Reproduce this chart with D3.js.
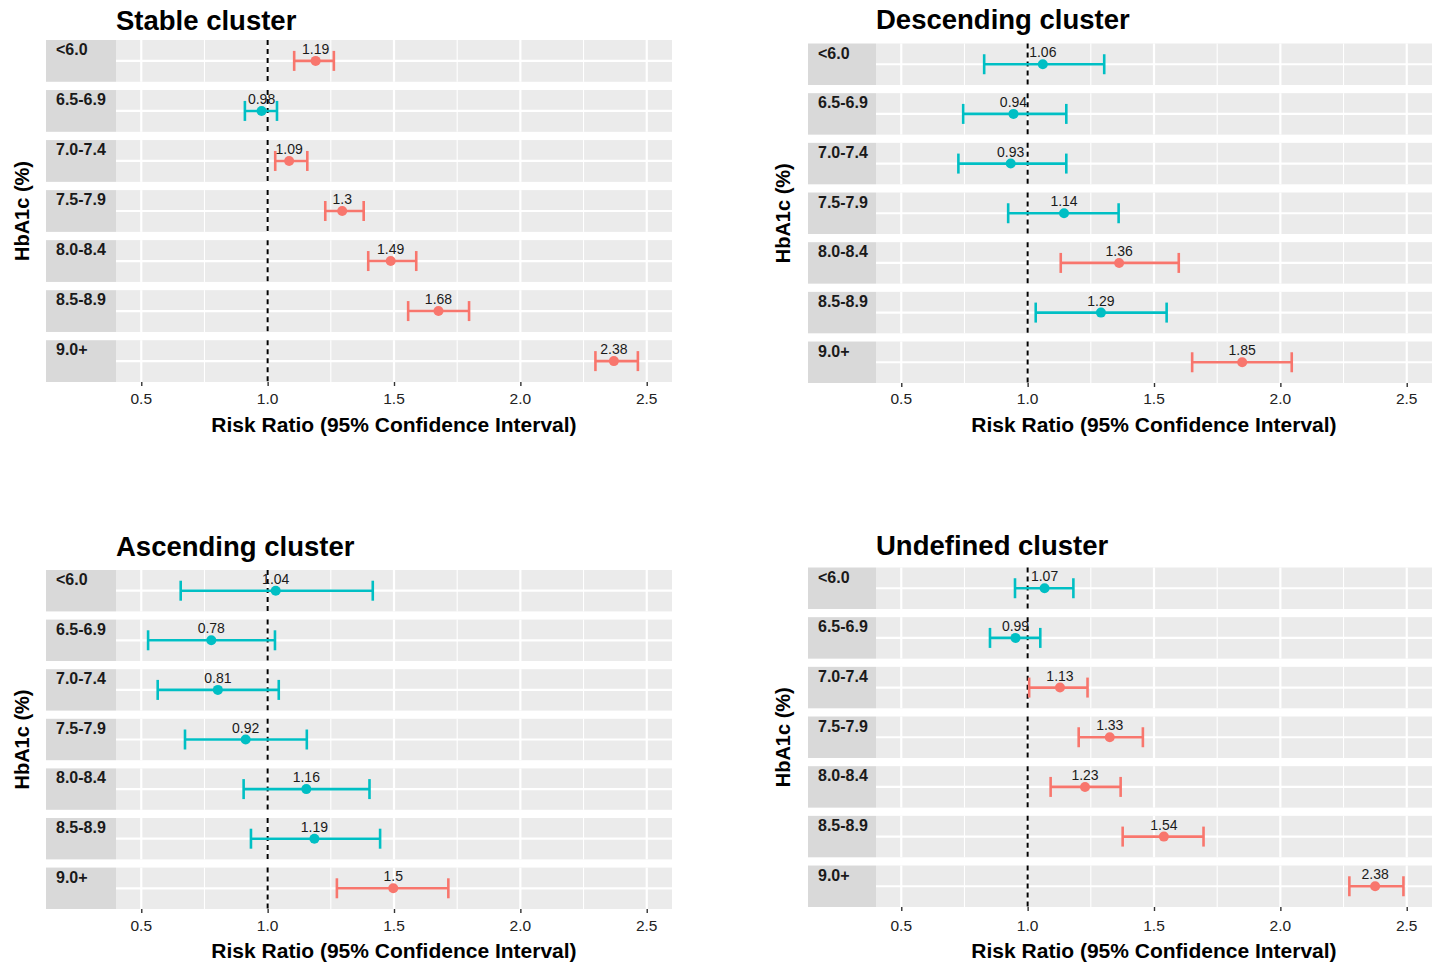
<!DOCTYPE html>
<html><head><meta charset="utf-8">
<script src="https://cdn.jsdelivr.net/npm/d3@7"></script>
<style>
html,body{margin:0;padding:0;background:#fff;}
svg{display:block;font-family:"Liberation Sans",Arial,sans-serif;}
</style></head>
<body>
<svg id="chart" width="1436" height="964"></svg>
<script>
// ---- data ----
const categories = ["<6.0","6.5-6.9","7.0-7.4","7.5-7.9","8.0-8.4","8.5-8.9","9.0+"];
const xTicks = [0.5, 1.0, 1.5, 2.0, 2.5];
const minorTicks = [0.75, 1.25, 1.75, 2.25];

const stableRR    = [1.19, 0.976, 1.085, 1.295, 1.487, 1.676, 2.37];
const stableLo    = [1.105, 0.91, 1.03, 1.228, 1.398, 1.556, 2.297];
const stableHi    = [1.262, 1.037, 1.157, 1.38, 1.588, 1.797, 2.465];
const stableLabel = ["1.19","0.98","1.09","1.3","1.49","1.68","2.38"];
const stableSig   = [1, 0, 1, 1, 1, 1, 1];

const descRR    = [1.06, 0.944, 0.933, 1.144, 1.362, 1.29, 1.849];
const descLo    = [0.828, 0.745, 0.726, 0.923, 1.131, 1.032, 1.651];
const descHi    = [1.303, 1.153, 1.153, 1.36, 1.598, 1.55, 2.045];
const descLabel = ["1.06","0.94","0.93","1.14","1.36","1.29","1.85"];
const descSig   = [0, 0, 0, 0, 1, 0, 1];

const ascRR    = [1.032, 0.777, 0.803, 0.913, 1.153, 1.185, 1.497];
const ascLo    = [0.656, 0.527, 0.565, 0.673, 0.905, 0.934, 1.274];
const ascHi    = [1.416, 1.029, 1.044, 1.155, 1.403, 1.445, 1.715];
const ascLabel = ["1.04","0.78","0.81","0.92","1.16","1.19","1.5"];
const ascSig   = [0, 0, 0, 0, 0, 0, 1];

const undefRR    = [1.067, 0.952, 1.128, 1.325, 1.227, 1.539, 2.375];
const undefLo    = [0.95, 0.851, 1.006, 1.202, 1.091, 1.376, 2.273];
const undefHi    = [1.181, 1.05, 1.237, 1.456, 1.368, 1.696, 2.487];
const undefLabel = ["1.07","0.99","1.13","1.33","1.23","1.54","2.38"];
const undefSig   = [0, 0, 1, 1, 1, 1, 1];

const panelTitles = ["Stable cluster","Descending cluster","Ascending cluster","Undefined cluster"];
const xTitle = "Risk Ratio (95% Confidence Interval)";
const yTitle = "HbA1c (%)";

// ---- layout ----
const COL_RED = "#F8766D", COL_TEAL = "#00BFC4";
const panels = [
  {title:panelTitles[0], rr:stableRR, lo:stableLo, hi:stableHi, lab:stableLabel, sig:stableSig,
   sx:46, px0:116, px1:672, top:40, bottom:382, titleY:30, yTitleX:29, tickY:404, xTitleY:432},
  {title:panelTitles[1], rr:descRR, lo:descLo, hi:descHi, lab:descLabel, sig:descSig,
   sx:808, px0:876, px1:1432, top:43.5, bottom:383, titleY:29, yTitleX:790, tickY:404, xTitleY:432},
  {title:panelTitles[2], rr:ascRR, lo:ascLo, hi:ascHi, lab:ascLabel, sig:ascSig,
   sx:46, px0:116, px1:672, top:570, bottom:909, titleY:556, yTitleX:29, tickY:931, xTitleY:958},
  {title:panelTitles[3], rr:undefRR, lo:undefLo, hi:undefHi, lab:undefLabel, sig:undefSig,
   sx:808, px0:876, px1:1432, top:567.5, bottom:907, titleY:555, yTitleX:790, tickY:931, xTitleY:958}
];

const svg = d3.select("#chart");

panels.forEach(p => {
  const g = svg.append("g");
  const x = d3.scaleLinear().domain([0.4, 2.6]).range([p.px0, p.px1]);
  const y = d3.scaleBand().domain(categories).range([p.top, p.bottom]).paddingInner(0.165);
  const bw = y.bandwidth();

  categories.forEach((c, i) => {
    const r = g.append("g");
    const y0 = y(c), cy = y0 + bw / 2;
    r.append("rect").attr("x", p.px0).attr("y", y0).attr("width", p.px1 - p.px0).attr("height", bw).attr("fill", "#EBEBEB");
    minorTicks.forEach(t => r.append("line").attr("x1", x(t)).attr("x2", x(t)).attr("y1", y0).attr("y2", y0 + bw)
      .attr("stroke", "#fff").attr("stroke-width", 1.1));
    xTicks.forEach(t => r.append("line").attr("x1", x(t)).attr("x2", x(t)).attr("y1", y0).attr("y2", y0 + bw)
      .attr("stroke", "#fff").attr("stroke-width", 2.2));
    r.append("line").attr("x1", p.px0).attr("x2", p.px1).attr("y1", cy).attr("y2", cy)
      .attr("stroke", "#fff").attr("stroke-width", 2.2);
    r.append("rect").attr("x", p.sx).attr("y", y0).attr("width", p.px0 - p.sx).attr("height", bw).attr("fill", "#D9D9D9");
    r.append("text").attr("x", p.sx + 10).attr("y", y0 + 15).attr("font-size", 16).attr("font-weight", "bold")
      .attr("fill", "#1a1a1a").text(c);
    r.append("line").attr("x1", x(1)).attr("x2", x(1)).attr("y1", y0).attr("y2", y0 + bw)
      .attr("stroke", "#000").attr("stroke-width", 2).attr("stroke-dasharray", "5,4");
    const col = p.sig[i] ? COL_RED : COL_TEAL;
    r.append("line").attr("x1", x(p.lo[i])).attr("x2", x(p.hi[i])).attr("y1", cy).attr("y2", cy)
      .attr("stroke", col).attr("stroke-width", 2.6);
    [p.lo[i], p.hi[i]].forEach(v => r.append("line").attr("x1", x(v)).attr("x2", x(v))
      .attr("y1", cy - 10).attr("y2", cy + 10).attr("stroke", col).attr("stroke-width", 2.6));
    r.append("circle").attr("cx", x(p.rr[i])).attr("cy", cy).attr("r", 5).attr("fill", col);
    r.append("text").attr("x", x(p.rr[i])).attr("y", cy - 7).attr("text-anchor", "middle")
      .attr("font-size", 14).attr("fill", "#1a1a1a").text(p.lab[i]);
  });

  const ax = g.append("g").attr("transform", `translate(0,${p.bottom})`)
    .call(d3.axisBottom(x).tickValues(xTicks).tickFormat(d3.format(".1f")).tickSize(4).tickPadding(4));
  ax.select(".domain").remove();
  ax.selectAll(".tick line").attr("stroke", "#333").attr("stroke-width", 1.4);
  ax.selectAll(".tick text").remove();
  xTicks.forEach(t => g.append("text").attr("x", x(t)).attr("y", p.tickY).attr("text-anchor", "middle")
    .attr("font-size", 15.5).attr("fill", "#222").text(d3.format(".1f")(t)));

  g.append("text").attr("x", (p.px0 + p.px1) / 2).attr("y", p.xTitleY).attr("text-anchor", "middle")
    .attr("font-size", 21).attr("font-weight", "bold").attr("fill", "#000").text(xTitle);
  const yc = (p.top + p.bottom) / 2;
  g.append("text").attr("transform", `translate(${p.yTitleX},${yc}) rotate(-90)`).attr("text-anchor", "middle")
    .attr("font-size", 20).attr("font-weight", "bold").attr("fill", "#000").text(yTitle);
  g.append("text").attr("x", p.px0).attr("y", p.titleY).attr("font-size", 27.5).attr("font-weight", "bold")
    .attr("fill", "#000").text(p.title);
});
</script>
</body></html>
